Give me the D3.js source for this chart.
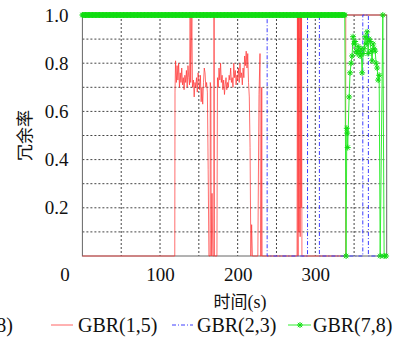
<!DOCTYPE html>
<html><head><meta charset="utf-8">
<script src="https://cdn.jsdelivr.net/npm/d3@7"></script>
<style>body{margin:0;background:#fff;} svg{display:block;}</style>
</head><body><svg id="c" width="395" height="341"></svg>
<script>
// ---------- data ----------
const xDomain = [0, 392];
const xTickValues = [0, 100, 200, 300];
const xGridValues = [50, 100, 150, 200, 250, 300, 350];
const yTickValues = [0.2, 0.4, 0.6, 0.8, 1.0];
const yGridValues = [0.1, 0.2, 0.3, 0.4, 0.5, 0.6, 0.7, 0.8, 0.9];
const legendLabels = ["GBR(4,8)", "GBR(1,5)", "GBR(2,3)", "GBR(7,8)"];
const xLabelMain = "时间";
const xLabelUnit = "(s)";
const yLabel = "冗余率";

// GBR(1,5): [time, ratio]
const red15 = [
 [0,0],[119,0],[119.3,0.68],[120,0.81],[121,0.72],[122,0.79],[123,0.73],[124,0.80],[125,0.70],
 [126,0.76],[127,0.72],[128,0.78],[129,0.71],[130,0.74],[131,0.69],[132,0.75],[133,0.72],[134,0.77],
 [135,0.70],[136,0.79],[137,0.74],[138,0.71],[138.8,1.0],[139.5,0.72],[141,1.0],[141.8,0.70],
 [143,0.73],[144,0.66],[145,0.72],[146,0.70],[147,0.74],[148,0.68],[149,0.76],[150,0.73],[151,0.69],
 [152,0.75],[153,0.64],[154,0.70],[155,0.63],[156,0.72],[157,0.78],[158,0.76],[159,0.70],[160,0.72],
 [161,0.68],[162,0.36],[163,0],[164.5,0],[164.7,0.72],[165.5,0.70],[166,0],[167,0.26],[168,0],
 [169.4,0],[169.6,1.0],[170,0],[173.3,0],[174,0.74],[175,0.70],[176,0.78],[177,0.73],[178,0.80],
 [179,0.72],[180,0.75],[181,0.69],[182,0.73],[183,0.67],[184,0.71],[185,0.74],[186,0.69],[187,0.72],
 [188,0.70],[189,0.75],[190,0.73],[191,0.78],[192,0.72],[193,0.74],[194,0.70],[195,0.80],[196,0.74],
 [197,0.77],[198,0.71],[199,0.75],[200,0.73],[201,0.78],[202,0.72],[203,0.80],[204,0.74],[205,0.76],
 [206,0.71],[207,0.78],[208,0.74],[209,0.83],[210,0.79],[211,0.85],[212,0.78],[213,0.84],[214,0.72],
 [215,0.66],[216,0.45],[217,0],[218,0.13],[219,0],[226,0],[227.5,0.67],[228.8,0.84],[229.5,0],
 [230.5,0],[231,0.7],[231.5,0],[276.5,0],[277,1],[277.8,0],[278.3,1],[279,0.1],[279.4,1],[280,0.7],
 [280.5,0.08],[281,1],[281.8,0.2],[282.3,1],[282.8,0],[339,0],[339.3,1],[392,1]
];

// GBR(2,3)
const blue23 = [
 [0,1],[238,1],[238,0],[290,0],[290,1],[305.3,1],[305.3,0],[361.2,0],[361.2,1],[368.4,1],[368.4,0],[392,0]
];

// GBR(7,8): steady part sampled every second, then measured points
const green78Steady = {start: 0, end: 338, value: 1.0};
const green78Tail = [
 [339.7,0],[340.6,0.53],[341.2,0.51],[341.8,0.45],[343.6,0.66],[344.8,0.76],[346.1,0.80],[347.4,0.83],
 [348.7,0.91],[350,0.88],[351.3,0.89],[352.6,0.85],[353.9,0.84],[355.2,0.87],[356.4,0.85],[357.7,0.83],
 [359,0.86],[360.3,0.76],[361.6,0.84],[362.9,0.86],[364.2,0.91],[365.5,0.88],[366.8,0.93],[368,0.84],
 [369.3,0.90],[370.6,0.89],[371.9,0.85],[373.2,0.81],[374.5,0.88],[375.8,0.86],[377.1,0.85],[378.4,0.80],
 [379.7,0.78],[381,0.73],[382.3,0.75],[383.6,0],[387,1],[388.7,0],[391.2,0]
];

// ---------- chart ----------
const svg = d3.select("#c");
const serif = "'Liberation Serif','Times New Roman',serif";
const cjk = "'Noto Sans CJK SC', sans-serif";
const L = 82.4, R = 386.7, T = 15, B = 256;
const x = d3.scaleLinear().domain(xDomain).range([L, R]);
const y = d3.scaleLinear().domain([0, 1]).range([B, T]);

// grid
const g = svg.append("g");
g.selectAll(".vg").data(xGridValues).join("line")
  .attr("x1", d => x(d)).attr("x2", d => x(d)).attr("y1", T).attr("y2", B)
  .attr("stroke", "#444").attr("stroke-width", 1).attr("stroke-dasharray", "2,2");
g.selectAll(".hg").data(yGridValues).join("line")
  .attr("x1", L).attr("x2", R).attr("y1", d => y(d)).attr("y2", d => y(d))
  .attr("stroke", "#444").attr("stroke-width", 1).attr("stroke-dasharray", "2,2");

// frame
svg.append("rect").attr("x", L).attr("y", T).attr("width", R - L).attr("height", B - T)
  .attr("fill", "none").attr("stroke", "#666").attr("stroke-width", 1);

// axes
const xa = svg.append("g").attr("transform", `translate(0,${B})`)
  .call(d3.axisBottom(x).tickValues(xTickValues).tickFormat(d3.format("d")).tickSize(0).tickPadding(12));
const ya = svg.append("g").attr("transform", `translate(${L},0)`)
  .call(d3.axisLeft(y).tickValues(yTickValues).tickFormat(d3.format(".1f")).tickSize(0).tickPadding(14));
[xa, ya].forEach(a => {
  a.select(".domain").remove();
  a.selectAll("text").attr("font-family", serif).attr("font-size", 19).attr("fill", "#111");
});
xa.selectAll(".tick").filter(d => d === 0).select("text").attr("dx", -18);

// series
const line = d3.line().x(d => x(d[0])).y(d => y(d[1]));
svg.append("path").datum(red15).attr("d", line)
  .attr("fill", "none").attr("stroke", "#ff3030").attr("stroke-width", 1).attr("stroke-opacity", 0.7);
svg.append("path").datum(blue23).attr("d", line)
  .attr("fill", "none").attr("stroke", "#3f3fff").attr("stroke-width", 1)
  .attr("stroke-dasharray", "4,2,1,2");

const green78 = d3.range(green78Steady.start, green78Steady.end + 1)
  .map(t => [t, green78Steady.value]).concat(green78Tail);
svg.append("path").datum(green78).attr("d", line)
  .attr("fill", "none").attr("stroke", "#33ee33").attr("stroke-width", 1);

function star(sel, r) {
  const a = r * 0.72;
  sel.attr("d", `M${-r},0L${r},0M0,${-r}L0,${r}M${-a},${-a}L${a},${a}M${-a},${a}L${a},${-a}`)
    .attr("fill", "none").attr("stroke", "#11dd11").attr("stroke-width", 1);
}
svg.append("g").selectAll("path").data(green78).join("path")
  .attr("transform", d => `translate(${x(d[0])},${y(d[1])})`)
  .call(star, 3);

// labels
const xl = svg.append("text").attr("x", 240).attr("y", 308).attr("text-anchor", "middle")
  .attr("font-size", 18).attr("fill", "#111");
xl.append("tspan").attr("font-family", cjk).attr("font-size", 17).text(xLabelMain);
xl.append("tspan").attr("font-family", serif).text(xLabelUnit);
svg.append("text").attr("transform", `translate(31,${(T + B) / 2}) rotate(-90)`)
  .attr("text-anchor", "middle")
  .attr("font-family", cjk).attr("font-size", 17).attr("fill", "#111")
  .text(yLabel);

// legend
const ly = 325, lfs = 20;
const leg = svg.append("g").attr("font-family", serif).attr("font-size", lfs).attr("fill", "#111");
leg.append("text").attr("x", 13).attr("y", ly + 7).attr("text-anchor", "end").text(legendLabels[0]);
leg.append("line").attr("x1", 51).attr("x2", 73).attr("y1", ly).attr("y2", ly)
  .attr("stroke", "#ff3030").attr("stroke-opacity", 0.75).attr("stroke-width", 1);
leg.append("text").attr("x", 78).attr("y", ly + 7).text(legendLabels[1]);
leg.append("line").attr("x1", 172).attr("x2", 193).attr("y1", ly).attr("y2", ly)
  .attr("stroke", "#3f3fff").attr("stroke-width", 1).attr("stroke-dasharray", "4,2,1,2");
leg.append("text").attr("x", 197).attr("y", ly + 7).text(legendLabels[2]);
leg.append("line").attr("x1", 288).attr("x2", 311).attr("y1", ly).attr("y2", ly)
  .attr("stroke", "#33ee33").attr("stroke-width", 1);
leg.append("path").attr("transform", `translate(300,${ly})`).call(star, 3);
leg.append("text").attr("x", 313).attr("y", ly + 7).text(legendLabels[3]);
</script>
</body></html>
